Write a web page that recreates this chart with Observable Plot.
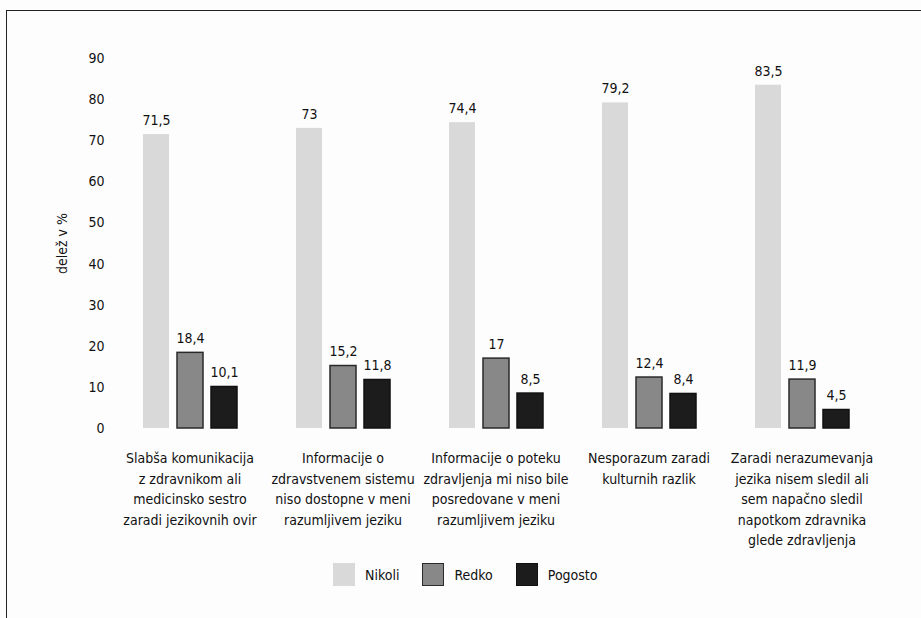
<!DOCTYPE html>
<html>
<head>
<meta charset="utf-8">
<script src="https://cdn.jsdelivr.net/npm/d3@7"></script>
<script src="https://cdn.jsdelivr.net/npm/@observablehq/plot@0.6"></script>
<style>
  html, body { margin: 0; padding: 0; background: #fdfdfd; }
  body { width: 921px; height: 618px; position: relative; overflow: hidden;
         font-family: "DejaVu Sans Condensed", "DejaVu Sans", sans-serif; font-stretch: condensed; }
  #frame { position: absolute; left: 6px; top: 10px; width: 940px; height: 640px;
           border-top: 1.5px solid #222; border-left: 1.5px solid #222; pointer-events: none; }
  #chart { position: absolute; left: 0; top: 0; }
  #chart svg text { font-stretch: condensed; }
  #legend { position: absolute; left: 333px; top: 563px; display: flex;
            align-items: center; font-size: 14px; color: #111; }
  .item { display: flex; align-items: center; margin-right: 23px; }
  .sw { width: 22px; height: 23px; margin-right: 10px; box-sizing: border-box; }
</style>
</head>
<body>
<div id="chart"></div>
<div id="legend"></div>
<div id="frame"></div>
<script>
const categories = [
  "Slabša komunikacija z zdravnikom ali medicinsko sestro zaradi jezikovnih ovir",
  "Informacije o zdravstvenem sistemu niso dostopne v meni razumljivem jeziku",
  "Informacije o poteku zdravljenja mi niso bile posredovane v meni razumljivem jeziku",
  "Nesporazum zaradi kulturnih razlik",
  "Zaradi nerazumevanja jezika nisem sledil ali sem napačno sledil napotkom zdravnika glede zdravljenja"
];
const categoryLines = [
  ["Slabša komunikacija", "z zdravnikom ali", "medicinsko sestro", "zaradi jezikovnih ovir"],
  ["Informacije o", "zdravstvenem sistemu", "niso dostopne v meni", "razumljivem jeziku"],
  ["Informacije o poteku", "zdravljenja mi niso bile", "posredovane v meni", "razumljivem jeziku"],
  ["Nesporazum zaradi", "kulturnih razlik"],
  ["Zaradi nerazumevanja", "jezika nisem sledil ali", "sem napačno sledil", "napotkom zdravnika", "glede zdravljenja"]
];
const series = ["Nikoli", "Redko", "Pogosto"];
const nikoli = [71.5, 73, 74.4, 79.2, 83.5];
const redko = [18.4, 15.2, 17, 12.4, 11.9];
const pogosto = [10.1, 11.8, 8.5, 8.4, 4.5];
const yTicks = [0, 10, 20, 30, 40, 50, 60, 70, 80, 90];
const yLabel = "delež v %";

const fills = ["#d9d9d9", "#888888", "#1c1c1c"];
const strokes = ["none", "#2a2a2a", "#111"];

const valuesBySeries = [nikoli, redko, pogosto];
const data = categories.flatMap((c, i) =>
  series.map((s, j) => ({category: c, series: s, value: valuesBySeries[j][i]}))
);
const fmt = v => String(v).replace(".", ",");
const labelOf = new Map(categories.map((c, i) => [c, categoryLines[i].join("\n")]));

const font = '"DejaVu Sans Condensed", "DejaVu Sans", sans-serif';

const chart = Plot.plot({
  width: 921,
  height: 552,
  marginLeft: 116,
  marginRight: 46,
  marginTop: 58,
  marginBottom: 124,
  style: {fontFamily: font, fontSize: "14px", color: "#111", background: "transparent", fontStretch: "condensed"},
  fx: {domain: categories, paddingInner: 0.275, paddingOuter: 0.116, label: null, axis: null},
  x: {domain: series, padding: 0.25, axis: null},
  y: {domain: [0, 90], axis: null},
  color: {domain: series, range: fills},
  marks: [
    Plot.axisY(yTicks, {
      tickSize: 0, tickPadding: 30, fontSize: 14,
      label: yLabel, labelAnchor: "center", labelOffset: 77, labelArrow: false
    }),
    Plot.axisFx({
      anchor: "bottom", tickSize: 0, tickPadding: 20, fontSize: 14, lineHeight: 1.47,
      tickFormat: d => labelOf.get(d), label: null
    }),
    Plot.barY(data, {
      fx: "category", x: "series", y: "value",
      fill: "series",
      stroke: d => strokes[series.indexOf(d.series)],
      strokeWidth: 1.5
    }),
    Plot.text(data, {
      fx: "category", x: "series", y: "value",
      text: d => fmt(d.value), dy: -14, fontSize: 14, fill: "#111"
    })
  ]
});
document.getElementById("chart").appendChild(chart);

const legend = document.getElementById("legend");
series.forEach((s, j) => {
  const item = document.createElement("div");
  item.className = "item";
  const sw = document.createElement("div");
  sw.className = "sw";
  sw.style.background = fills[j];
  if (strokes[j] !== "none") sw.style.border = "1.5px solid " + strokes[j];
  const t = document.createElement("span");
  t.textContent = s;
  item.appendChild(sw);
  item.appendChild(t);
  legend.appendChild(item);
});
</script>
</body>
</html>
